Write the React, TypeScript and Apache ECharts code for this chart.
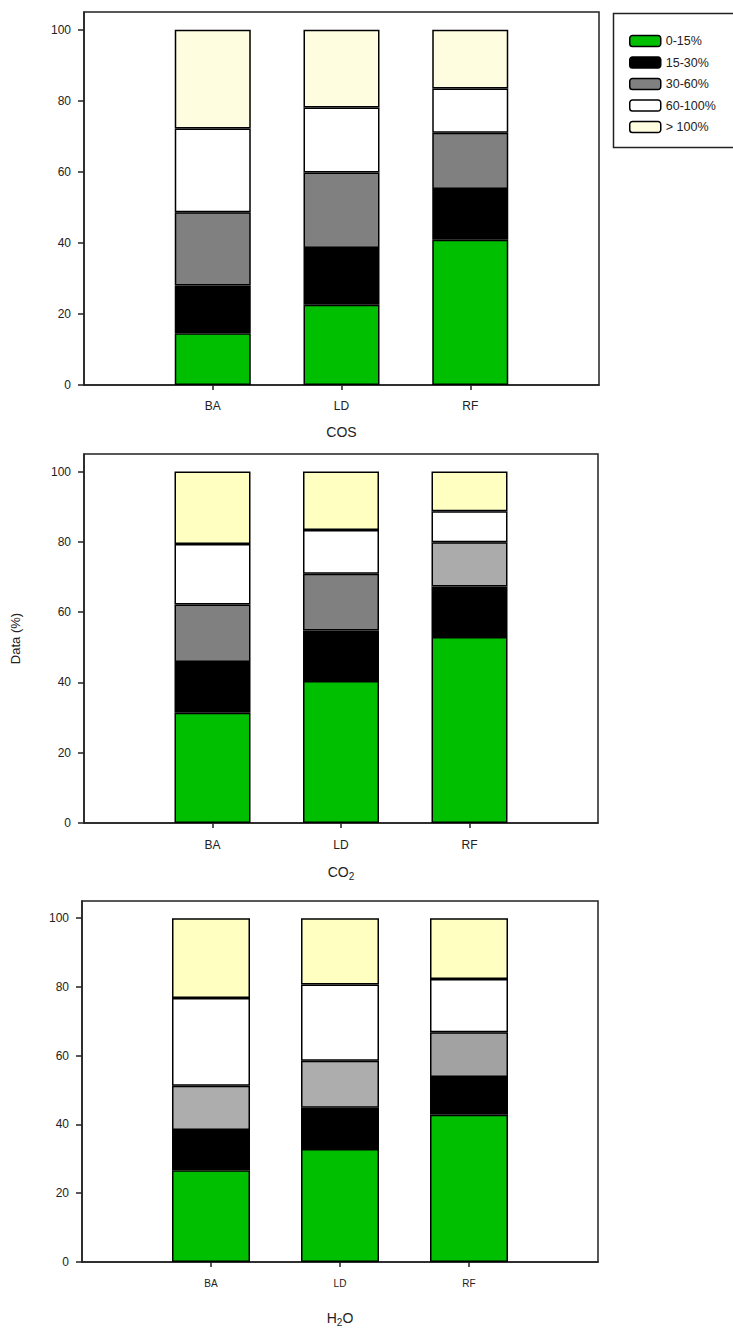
import React, { useEffect, useRef } from "react";
import * as echarts from "echarts";

// ---- data ----
const categories = ["BA", "LD", "RF"];
const classNames = ["0-15%", "15-30%", "30-60%", "60-100%", "> 100%"];
const gasNames = ["COS", "CO{s|2}", "H{s|2}O"];
const yTicks = [0, 20, 40, 60, 80, 100];

// COS
const cos0to15 = [14.6, 22.6, 40.9];
const cos15to30 = [13.4, 16.0, 14.3];
const cos30to60 = [20.6, 21.2, 15.8];
const cos60to100 = [23.6, 18.3, 12.5];
const cosOver100 = [27.8, 21.9, 16.5];

// CO2
const co2_0to15 = [31.4, 40.4, 52.9];
const co2_15to30 = [14.4, 14.4, 14.4];
const co2_30to60 = [16.4, 16.1, 12.6];
const co2_60to100 = [17.2, 12.5, 8.8];
const co2_over100 = [20.6, 16.6, 11.3];

// H2O
const h2o0to15 = [26.7, 32.9, 42.8];
const h2o15to30 = [11.7, 12.0, 11.0];
const h2o30to60 = [12.9, 13.6, 13.0];
const h2o60to100 = [25.5, 22.2, 15.5];
const h2oOver100 = [23.2, 19.3, 17.7];

// padded category list: empty slots at both ends so the bars sit at 1/4, 2/4, 3/4
const padLeft = "_l";
const padRight = "_r";
const axisCategories = [padLeft, ...categories, padRight];

// ---- styles ----
const panelSeries = [
  [cos0to15, cos15to30, cos30to60, cos60to100, cosOver100],
  [co2_0to15, co2_15to30, co2_30to60, co2_60to100, co2_over100],
  [h2o0to15, h2o15to30, h2o30to60, h2o60to100, h2oOver100],
];
const panelColors = [
  [["#00bf00"], ["#000000"], ["#808080"], ["#ffffff"], ["#fffddf"]],
  [["#00bf00"], ["#000000"], ["#808080", "#808080", "#ababab"], ["#ffffff"], ["#ffffc2"]],
  [["#00bf00"], ["#000000"], ["#adadad", "#adadad", "#a2a2a2"], ["#ffffff"], ["#ffffc2"]],
];
const grids = [
  { left: 84, top: 12, width: 515, height: 373 },
  { left: 84, top: 454, width: 514, height: 369 },
  { left: 82, top: 901, width: 516, height: 361 },
];
const barWidths = [76, 76, 78];
const xLabelMargins = [15, 16, 16];
const xLabelSizes = [12, 12, 10];
const xNameGaps = [40, 42, 49];
const FONT = "Liberation Sans, Arial, sans-serif";
const AX = "#222";

const isReal = (v: string) => categories.indexOf(v) >= 0;

export default function App() {
  const ref = useRef<HTMLDivElement>(null);
  useEffect(() => {
    document.body.style.margin = "0";
    if (!ref.current) return;
    const chart = echarts.init(ref.current, null, { renderer: "svg" });

    const xAxis: any[] = [];
    const yAxis: any[] = [];
    const series: any[] = [];
    grids.forEach((g, gi) => {
      xAxis.push({
        type: "category",
        gridIndex: gi,
        data: axisCategories,
        boundaryGap: false,
        name: gasNames[gi],
        nameLocation: "middle",
        nameGap: xNameGaps[gi],
        nameTextStyle: {
          fontFamily: FONT,
          fontSize: 14,
          color: AX,
          rich: {
            s: { fontFamily: FONT, fontSize: 10, color: AX, lineHeight: 10, padding: [9, 0, 0, 0] },
          },
        },
        axisLine: { show: true, onZero: false, lineStyle: { color: AX, width: 1.5 } },
        axisTick: {
          show: true,
          length: 5,
          interval: (_i: number, v: string) => isReal(v),
          lineStyle: { color: AX, width: 1.5 },
        },
        axisLabel: {
          interval: (_i: number, v: string) => isReal(v),
          margin: xLabelMargins[gi],
          fontFamily: FONT,
          fontSize: xLabelSizes[gi],
          color: AX,
          formatter: (v: string) => (isReal(v) ? v : ""),
        },
        splitLine: { show: false },
      });
      yAxis.push({
        type: "value",
        gridIndex: gi,
        min: 0,
        max: 105,
        interval: 20,
        name: gi === 1 ? "Data (%)" : "",
        nameLocation: "middle",
        nameGap: 62,
        nameTextStyle: { fontFamily: FONT, fontSize: 13, color: AX },
        axisLine: { show: true, onZero: false, lineStyle: { color: AX, width: 1.5 } },
        axisTick: { show: true, length: 6, customValues: yTicks, lineStyle: { color: AX, width: 1.5 } },
        axisLabel: { customValues: yTicks, margin: 13, fontFamily: FONT, fontSize: 12, color: AX },
        splitLine: { show: false },
      });
      panelSeries[gi].forEach((vals, si) => {
        const cols = panelColors[gi][si];
        series.push({
          type: "bar",
          name: classNames[si],
          xAxisIndex: gi,
          yAxisIndex: gi,
          stack: "s" + gi,
          barWidth: barWidths[gi],
          itemStyle: { color: cols[0], borderColor: "#000", borderWidth: 1.5 },
          data: axisCategories.map((c) => {
            const i = categories.indexOf(c);
            if (i < 0) return "-";
            return { value: vals[i], itemStyle: { color: cols[i] ?? cols[0] } };
          }),
        });
      });
    });

    chart.setOption({
      animation: false,
      backgroundColor: "#fff",
      grid: grids.map((g) => ({ ...g, show: true, borderColor: AX, borderWidth: 1.5, backgroundColor: "transparent" })),
      xAxis,
      yAxis,
      legend: {
        data: classNames,
        orient: "vertical",
        left: 624,
        top: 29,
        itemWidth: 31,
        itemHeight: 11,
        itemGap: 7.5,
        selectedMode: false,
        textStyle: { fontFamily: FONT, fontSize: 12.5, color: AX, lineHeight: 14 },
        itemStyle: { borderColor: "#000", borderWidth: 1.5 },
      },
      graphic: [
        {
          type: "rect",
          left: 611,
          top: 11,
          shape: { x: 0, y: 0, width: 130, height: 134 },
          style: { fill: "none", stroke: AX, lineWidth: 1.5 },
        },
      ],
      series,
    });
    return () => chart.dispose();
  }, []);
  return <div ref={ref} style={{ width: 733, height: 1331 }} />;
}
